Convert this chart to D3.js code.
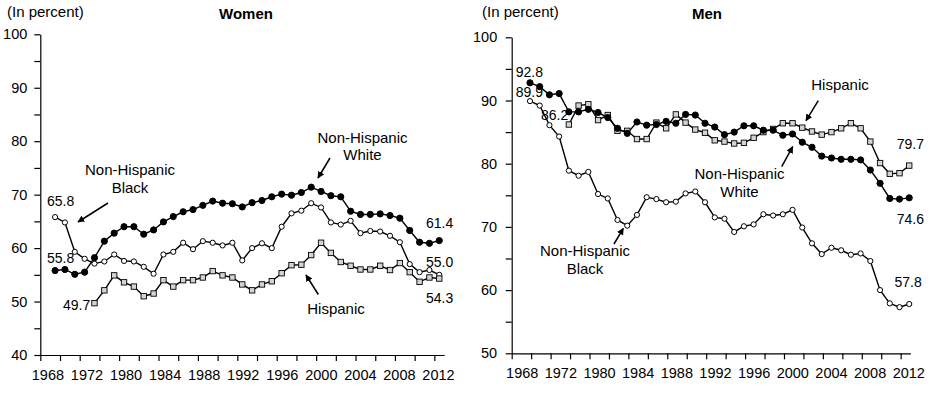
<!DOCTYPE html>
<html><head><meta charset="utf-8">
<script src="https://cdn.jsdelivr.net/npm/d3@7/dist/d3.min.js"></script>
<style>
html,body{margin:0;padding:0;background:#fff;}
svg text{font-family:"Liberation Sans",Arial,sans-serif;fill:#000;}
</style></head>
<body><svg id="chart" width="939" height="399"></svg>
<script>
// ---- data ----
const xTickLabels = ["1968","1972","1980","1984","1988","1992","1996","2000","2004","2008","2012"];
const pointIndex = d3.range(40);

const womenWhite = [55.8,56.0,55.1,55.5,58.2,61.3,62.8,64.0,64.0,62.6,63.4,64.9,65.9,66.8,67.2,68.0,68.8,68.4,68.3,67.7,68.5,68.9,69.6,70.1,69.9,70.4,71.4,70.6,69.8,69.6,66.9,66.3,66.3,66.4,66.1,65.6,63.3,61.1,60.9,61.4];
const womenBlack = [65.8,64.8,59.3,58.0,57.1,57.5,58.8,57.6,57.5,56.5,55.2,58.8,59.3,61.0,59.8,61.3,61.0,60.5,61.0,57.7,60.0,60.9,60.0,64.0,66.5,67.0,68.4,67.6,64.8,64.4,65.1,62.8,63.2,63.1,62.3,61.1,57.0,55.5,55.9,55.0];
const womenHispanic = [null,null,null,null,49.7,52.1,54.9,53.6,52.8,51.0,51.5,54.0,52.8,54.0,54.0,54.5,55.7,54.9,54.5,53.2,52.1,53.2,53.8,55.3,56.8,56.9,58.7,61.0,59.1,57.4,56.7,56.0,56.0,56.7,55.9,57.2,55.5,53.7,54.5,54.3];

const menWhite = [92.8,92.2,90.9,91.1,88.2,88.2,88.6,88.1,87.3,85.6,84.8,86.6,86.1,86.2,86.7,86.4,87.8,87.7,86.4,85.8,84.6,85.0,86.0,86.0,85.3,85.3,84.5,84.7,83.4,82.6,81.2,80.9,80.7,80.7,80.6,79.0,76.9,74.5,74.4,74.6];
const menBlack = [89.9,89.2,86.1,84.3,78.9,78.1,78.7,75.2,74.5,71.1,70.2,71.9,74.7,74.4,73.9,74.0,75.3,75.6,73.9,71.5,71.3,69.2,70.1,70.4,72.0,71.8,72.0,72.7,69.9,67.4,65.7,66.7,66.3,65.6,65.8,64.6,60.0,57.9,57.3,57.8];
const menHispanic = [null,null,null,null,86.2,89.2,89.4,86.9,87.7,85.2,85.2,83.9,83.9,86.5,85.6,87.8,86.5,85.4,84.9,83.7,83.5,83.2,83.3,84.1,85.0,85.5,86.4,86.4,85.7,85.1,84.6,85.0,85.6,86.4,85.6,83.5,80.1,78.4,78.5,79.7];

const yTicksWomen = d3.range(40, 101, 5);
const yTicksMen = d3.range(50, 101, 5);

// ---- drawing ----
const svg = d3.select("#chart");
svg.append("defs").append("marker")
  .attr("id","arrow").attr("viewBox","0 0 10 10").attr("refX",9).attr("refY",5)
  .attr("markerWidth",7).attr("markerHeight",7).attr("markerUnits","userSpaceOnUse")
  .attr("orient","auto")
  .append("path").attr("d","M0,0L10,5L0,10z").attr("fill","#000");

function drawPanel(cfg){
  const g = svg.append("g");
  const x = d3.scaleLinear().domain(cfg.xDomain).range(cfg.xRange);
  const y = d3.scaleLinear().domain(cfg.yDomain).range(cfg.yRange);

  // y axis
  const ya = g.append("g").attr("transform",`translate(${cfg.xRange[0]},0)`)
    .call(d3.axisLeft(y).tickValues(cfg.yTicks).tickSize(6).tickSizeOuter(0).tickPadding(cfg.yPad)
      .tickFormat(d => d % 10 === 0 ? d : ""));
  ya.selectAll("text").style("font-size","14.5px");
  // x axis ticks
  const tickVals = d3.range(cfg.xDomain[0], cfg.xDomain[1] + 0.01, 2);
  g.append("g").attr("transform",`translate(0,${cfg.yRange[0]})`)
    .call(d3.axisBottom(x).tickValues(tickVals).tickSize(6).tickSizeOuter(0).tickFormat(""));
  // x axis labels
  const labelVals = xTickLabels.map((_, k) => cfg.labelStart + cfg.labelStep * k);
  const la = g.append("g").attr("transform",`translate(0,${cfg.yRange[0]})`)
    .call(d3.axisBottom(x).tickValues(labelVals).tickSize(0).tickPadding(cfg.xPad)
      .tickFormat((d, i) => xTickLabels[i]));
  la.select(".domain").remove();
  la.selectAll("text").style("font-size","14.5px");
  g.selectAll(".domain, .tick line").attr("stroke","#000").attr("stroke-width",1.2);

  const line = d3.line().defined(d => d != null).x((d, i) => x(pointIndex[i])).y(d => y(d));
  cfg.series.forEach(s => {
    g.append("path").datum(s.values).attr("fill","none").attr("stroke","#000")
      .attr("stroke-width",1.4).attr("d", line);
  });
  cfg.series.forEach(s => {
    const pts = s.values.map((v, i) => ({i: pointIndex[i], v})).filter(d => d.v != null);
    if (s.marker === "square") {
      g.selectAll(null).data(pts).enter().append("rect")
        .attr("x", d => x(d.i) - 2.7).attr("y", d => y(d.v) - 2.7)
        .attr("width",5.4).attr("height",5.4)
        .attr("fill","#d4d4d4").attr("stroke","#000").attr("stroke-width",0.9);
    } else {
      g.selectAll(null).data(pts).enter().append("circle")
        .attr("cx", d => x(d.i)).attr("cy", d => y(d.v))
        .attr("r", s.marker === "filled" ? 3.1 : 2.6)
        .attr("fill", s.marker === "filled" ? "#000" : "#fff")
        .attr("stroke","#000").attr("stroke-width",1);
    }
  });

  // texts
  g.append("text").attr("x",cfg.unitX).attr("y",17).style("font-size","15px").text("(In percent)");
  g.append("text").attr("x",cfg.titleX).attr("y",19).attr("text-anchor","middle")
    .style("font-size","15px").style("font-weight","bold").text(cfg.title);
  cfg.notes.forEach(n => {
    n.lines.forEach((t, j) => {
      g.append("text").attr("x",n.x).attr("y",n.y + j*17.5).attr("text-anchor","middle")
        .style("font-size","15px").text(t);
    });
    g.append("line").attr("x1",n.a[0]).attr("y1",n.a[1]).attr("x2",n.a[2]).attr("y2",n.a[3])
      .attr("stroke","#000").attr("stroke-width",1.5).attr("marker-end","url(#arrow)");
  });
  cfg.values.forEach(v => {
    g.append("text").attr("x",v.x).attr("y",v.y).style("font-size","14px").text(v.t);
  });
}

drawPanel({
  title:"Women", titleX:246, unitX:7,
  xDomain:[-1.5,39.5], xRange:[40.3,444.2],
  yDomain:[40,100], yRange:[355,34.3], yTicks:yTicksWomen, yPad:7, xPad:15,
  labelStart:-0.78, labelStep:3.965,
  series:[
    {values:womenBlack, marker:"open"},
    {values:womenHispanic, marker:"square"},
    {values:womenWhite, marker:"filled"}
  ],
  notes:[
    {lines:["Non-Hispanic","Black"], x:130, y:175, a:[108,203,78,222]},
    {lines:["Non-Hispanic","White"], x:362.5, y:142.5, a:[330,158,318,178]},
    {lines:["Hispanic"], x:336, y:314.3, a:[318.3,294.5,306,275]}
  ],
  values:[
    {t:"65.8", x:47, y:205.7},{t:"55.8", x:47, y:263},{t:"49.7", x:63, y:309.8},
    {t:"61.4", x:426, y:227.7},{t:"55.0", x:426, y:267.3},{t:"54.3", x:426, y:302.5}
  ]
});

drawPanel({
  title:"Men", titleX:707, unitX:482,
  xDomain:[-1.88,39.12], xRange:[511.7,910.4],
  yDomain:[50,100], yRange:[353.3,37.3], yTicks:yTicksMen, yPad:8.5, xPad:14.3,
  labelStart:-0.85, labelStep:3.975,
  series:[
    {values:menBlack, marker:"open"},
    {values:menHispanic, marker:"square"},
    {values:menWhite, marker:"filled"}
  ],
  notes:[
    {lines:["Hispanic"], x:840, y:90, a:[818.3,100.7,806,120.7]},
    {lines:["Non-Hispanic","White"], x:739.5, y:179, a:[781.7,166.7,792.7,146.7]},
    {lines:["Non-Hispanic","Black"], x:585, y:256, a:[614,244,623.3,228.3]}
  ],
  values:[
    {t:"92.8", x:515.7, y:77.3},{t:"89.9", x:515.7, y:97.3},{t:"86.2", x:541, y:120},
    {t:"79.7", x:896.7, y:149.3},{t:"74.6", x:896.7, y:224},{t:"57.8", x:894.5, y:287.3}
  ]
});
</script></body></html>
